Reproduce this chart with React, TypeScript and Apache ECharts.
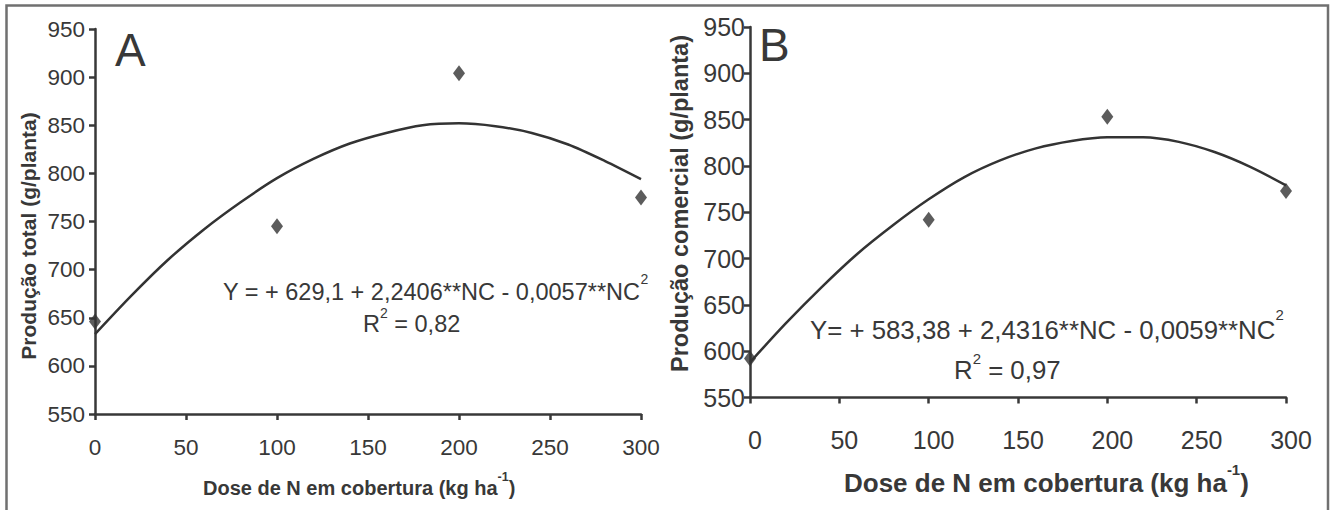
import React, { useEffect, useRef } from "react";
import * as echarts from "echarts";

// ---- data ----
const doseX = [0, 100, 200, 300];
const obsTotal = [646, 745, 904, 775];
const obsComercial = [592, 742, 853, 773];

const fitX = [0, 20, 40, 60, 80, 100, 120, 140, 160, 180, 200, 220, 240, 260, 280, 300];
const fitTotal = [633, 673, 710, 742, 770, 795, 815, 831, 842, 850, 852, 849, 842, 830, 813, 794];
const fitComercial = [588, 630, 669, 705, 736, 764, 788, 806, 819, 827, 831, 831, 826, 815, 799, 779];

const xTicks = [0, 50, 100, 150, 200, 250, 300];
const yTicks = [550, 600, 650, 700, 750, 800, 850, 900, 950];

const eqA = "Y = + 629,1 + 2,2406**NC - 0,0057**NC";
const r2A = " = 0,82";
const eqB = "Y= + 583,38 + 2,4316**NC - 0,0059**NC";
const r2B = " = 0,97";

const titleYA = "Produção total (g/planta)";
const titleYB = "Produção comercial (g/planta)";
const titleX = "Dose de N em cobertura (kg ha";

const FONT = "'Liberation Sans', Arial, Helvetica, sans-serif";
const INK = "#383838";

function pairs(xs: number[], ys: number[]) {
  return xs.map((x, i) => [x, ys[i]]);
}

export default function App() {
  const ref = useRef<HTMLDivElement>(null);
  useEffect(() => {
    if (!ref.current) return;
    const chart = echarts.init(ref.current, null, { renderer: "svg" });
    const xMin = xTicks[0], xMax = xTicks[xTicks.length - 1], xStep = xTicks[1] - xTicks[0];
    const yMin = yTicks[0], yMax = yTicks[yTicks.length - 1], yStep = yTicks[1] - yTicks[0];

    const axisLine = { show: true, onZero: false, lineStyle: { color: INK, width: 2.5 } };
    const axisTick = { show: true, length: 6, lineStyle: { color: INK, width: 2.5 } };

    const mkX = (idx: number, fs: number, margin: number, padLeft: number) => ({
      type: "value",
      gridIndex: idx,
      min: xMin,
      max: xMax,
      interval: xStep,
      axisLine,
      axisTick,
      splitLine: { show: false },
      axisLabel: { color: INK, fontSize: fs, fontFamily: FONT, margin, padding: [0, 0, 0, padLeft] },
    });
    const mkY = (idx: number, fs: number, margin: number) => ({
      type: "value",
      gridIndex: idx,
      min: yMin,
      max: yMax,
      interval: yStep,
      axisLine,
      axisTick,
      splitLine: { show: false },
      axisLabel: { color: INK, fontSize: fs, fontFamily: FONT, margin },
    });

    const supRich = (fs: number, sfs: number, bold: boolean, lh: number) => ({
      m: { fontSize: fs, fontFamily: FONT, fill: INK, fontWeight: bold ? "bold" : "normal", lineHeight: lh, verticalAlign: "bottom" },
      s: { fontSize: sfs, fontFamily: FONT, fill: INK, fontWeight: bold ? "bold" : "normal", verticalAlign: "top" },
    });

    const option: any = {
      animation: false,
      backgroundColor: "#ffffff",
      grid: [
        { left: 95, top: 29, width: 546, height: 385 },
        { left: 750, top: 27, width: 536, height: 370.5 },
      ],
      xAxis: [mkX(0, 22.5, 22, 0), mkX(1, 25, 30, 10)],
      yAxis: [mkY(0, 22.5, 10), mkY(1, 25, 5)],
      series: [
        {
          type: "line", xAxisIndex: 0, yAxisIndex: 0, data: pairs(fitX, fitTotal),
          showSymbol: false, smooth: 0.3, lineStyle: { color: "#333", width: 2.5 },
        },
        {
          type: "scatter", xAxisIndex: 0, yAxisIndex: 0, data: pairs(doseX, obsTotal),
          symbol: "diamond", symbolSize: [12, 16], itemStyle: { color: "#333" },
        },
        {
          type: "line", xAxisIndex: 1, yAxisIndex: 1, data: pairs(fitX, fitComercial),
          showSymbol: false, smooth: 0.3, lineStyle: { color: "#333", width: 2.5 },
        },
        {
          type: "scatter", xAxisIndex: 1, yAxisIndex: 1, data: pairs(doseX, obsComercial),
          symbol: "diamond", symbolSize: [12, 16], itemStyle: { color: "#333" },
        },
      ],
      graphic: [
        {
          type: "polyline",
          shape: { points: [[6.5, 512], [6.5, 5.5], [1328, 5.5], [1328, 512]] },
          style: { stroke: "#707070", lineWidth: 2.5, fill: null },
        },
        // panel letters
        { type: "text", x: 115, y: 50, style: { text: "A", font: `46px ${FONT}`, fill: INK, textAlign: "left", textVerticalAlign: "middle" } },
        { type: "text", x: 759, y: 44.5, style: { text: "B", font: `46px ${FONT}`, fill: INK, textAlign: "left", textVerticalAlign: "middle" } },
        // y axis titles
        {
          type: "text", x: 28, y: 236, rotation: Math.PI / 2,
          style: { text: titleYA, font: `bold 21px ${FONT}`, fill: INK, textAlign: "center", textVerticalAlign: "middle" },
        },
        {
          type: "text", x: 680, y: 203.5, rotation: Math.PI / 2,
          style: { text: titleYB, font: `bold 23.5px ${FONT}`, fill: INK, textAlign: "center", textVerticalAlign: "middle" },
        },
        // x axis titles
        {
          type: "text", x: 203, y: 484,
          style: { text: `{m|${titleX}}{s|-1}{m|)}`, rich: supRich(20, 12.5, true, 27), textAlign: "left", textVerticalAlign: "middle" },
        },
        {
          type: "text", x: 844, y: 479,
          style: { text: `{m|${titleX}}{s|-1}{m|)}`, rich: supRich(26, 15, true, 34), textAlign: "left", textVerticalAlign: "middle" },
        },
        // equations A
        {
          type: "text", x: 223, y: 287.5,
          style: { text: `{m|${eqA}}{s|2}`, rich: supRich(23.5, 14, false, 32), textAlign: "left", textVerticalAlign: "middle" },
        },
        {
          type: "text", x: 363, y: 321,
          style: { text: `{m|R}{s|2}{m|${r2A}}`, rich: supRich(23.5, 14, false, 30), textAlign: "left", textVerticalAlign: "middle" },
        },
        // equations B
        {
          type: "text", x: 810, y: 324.5,
          style: { text: `{m|${eqB}}{s|2}`, rich: supRich(25.8, 15, false, 36), textAlign: "left", textVerticalAlign: "middle" },
        },
        {
          type: "text", x: 954, y: 366.5,
          style: { text: `{m|R}{s|2}{m|${r2B}}`, rich: supRich(25.8, 15, false, 32), textAlign: "left", textVerticalAlign: "middle" },
        },
      ],
    };
    chart.setOption(option);
    return () => chart.dispose();
  }, []);
  return (
    <div
      ref={ref}
      style={{ position: "fixed", left: 0, top: 0, width: 1333, height: 510, background: "#fff" }}
    />
  );
}
